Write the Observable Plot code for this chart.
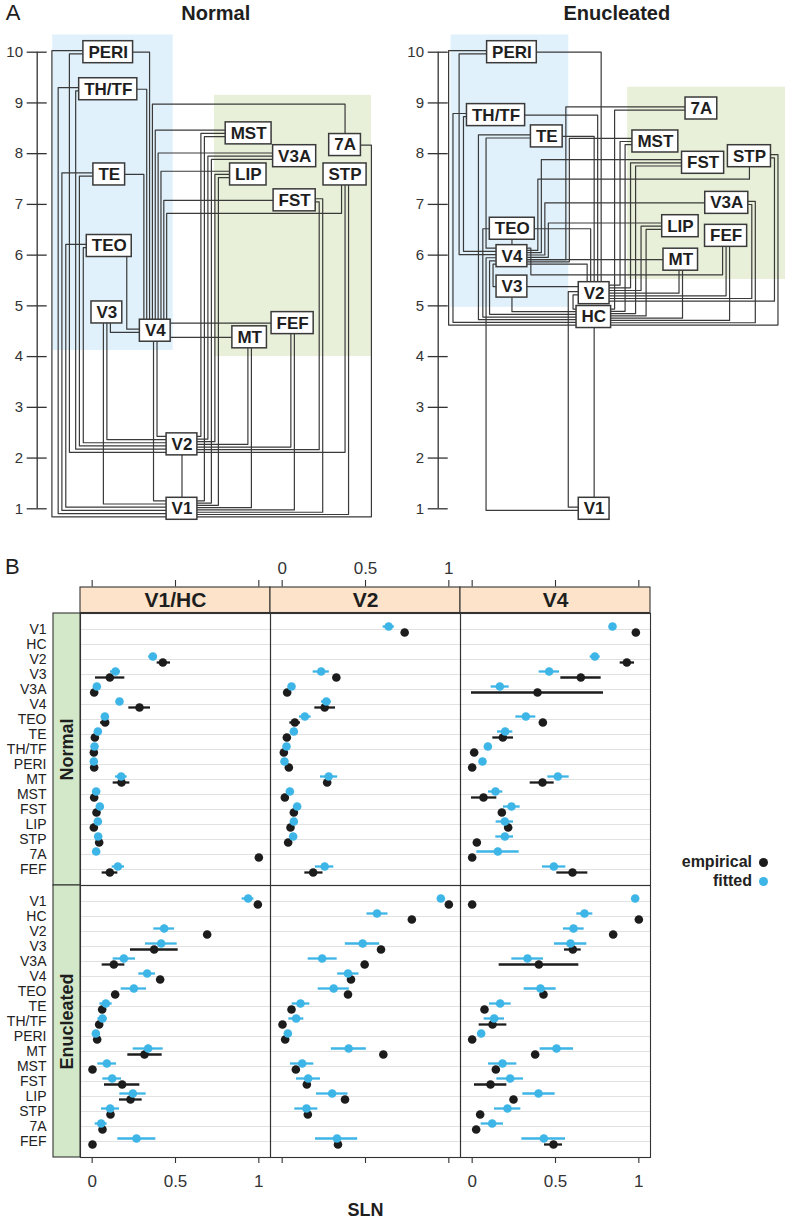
<!DOCTYPE html>
<html><head><meta charset="utf-8">
<script src="https://cdn.jsdelivr.net/npm/d3@7"></script>
<script src="https://cdn.jsdelivr.net/npm/@observablehq/plot@0.6"></script>
<style>
body{margin:0;background:#fff;font-family:'Liberation Sans',Arial,Helvetica,sans-serif;}
#root{position:relative;width:785px;height:1222px;overflow:hidden;}
.abs{position:absolute;}
.abs svg{display:block;}
.lg{position:absolute;font:bold 16px 'Liberation Sans',Arial,sans-serif;color:#222;text-align:right;width:120px;line-height:20px;}
.dot{position:absolute;width:9px;height:9px;border-radius:50%;}
</style></head><body><div id="root"></div>
<script>
// ---------------- Panel A data: area position (column) and hierarchical level ----------------
const levelTicks = [1,2,3,4,5,6,7,8,9,10];

const normalAreas  = ["PERI","TH/TF","TE","TEO","V3","V4","MST","7A","V3A","LIP","STP","FST","FEF","MT","V2","V1"];
const normalColumn = [2.10, 2.10, 2.13, 2.13, 2.06, 3.49, 6.25, 9.10, 7.61, 6.24, 9.10, 7.61, 7.55, 6.28, 4.28, 4.28];
const normalLevel  = [10.00, 9.27, 7.59, 6.18, 4.87, 4.51, 8.40, 8.17, 7.95, 7.59, 7.59, 7.08, 4.66, 4.38, 2.27, 1.00];
const normalZones  = [
  {zone: "ventral", c1: 0.46, c2: 4.02, l1: 4.12, l2: 10.34},
  {zone: "dorsal",  c1: 5.24, c2: 9.88, l1: 4.00, l2: 9.15}
];
// connections: [area, area, routing style]
const normalEdges = [
  ["V2","V1","V"], ["V3","V1","B"], ["V4","V1","B"], ["TEO","V1","L"], ["TE","V1","L"], ["TH/TF","V1","L"], ["PERI","V1","L"],
  ["MT","V1","B"], ["MST","V1","I"], ["V3A","V1","I"], ["LIP","V1","I"], ["FST","V1","R"], ["STP","V1","B"], ["7A","V1","R"], ["FEF","V1","B"],
  ["V3","V2","B"], ["V4","V2","B"], ["TEO","V2","L"], ["TE","V2","L"], ["TH/TF","V2","L"], ["PERI","V2","L"],
  ["MT","V2","B"], ["MST","V2","I"], ["V3A","V2","I"], ["LIP","V2","I"], ["FST","V2","R"], ["STP","V2","B"], ["FEF","V2","B"],
  ["V3","V4","B"], ["TEO","V4","B"], ["TE","V4","T"], ["TH/TF","V4","T"], ["PERI","V4","T"],
  ["MT","V4","H"], ["FEF","V4","H"], ["MST","V4","T"], ["V3A","V4","T"], ["LIP","V4","T"], ["FST","V4","T"], ["STP","V4","U"], ["7A","V4","O"]
];

const enucAreas  = ["PERI","TH/TF","TE","TEO","V4","V3","V2","HC","V1","7A","MST","FST","STP","V3A","LIP","FEF","MT"];
const enucColumn = [2.18, 1.71, 3.21, 2.19, 2.18, 2.18, 4.61, 4.60, 4.61, 7.78, 6.42, 7.83, 9.20, 8.53, 7.16, 8.51, 7.17];
const enucLevel  = [10.00, 8.76, 8.34, 6.52, 5.98, 5.38, 5.25, 4.78, 1.00, 8.89, 8.24, 7.82, 7.95, 7.03, 6.57, 6.38, 5.91];
const enucZones  = [
  {zone: "ventral", c1: 0.38, c2: 3.86, l1: 4.97, l2: 10.34},
  {zone: "dorsal",  c1: 5.60, c2: 10.27, l1: 5.52, l2: 9.31}
];
const enucEdges = [
  ["HC","V1","V"], ["V2","V1","L"], ["V4","V1","L"],
  ["V2","HC","L"], ["V3","HC","B"], ["V4","HC","L"], ["TEO","HC","L"], ["TE","HC","L"], ["TH/TF","HC","L"], ["PERI","HC","L"],
  ["MT","HC","B"], ["MST","HC","I"], ["FST","HC","I"], ["LIP","HC","I"], ["STP","HC","R"], ["7A","HC","I"], ["FEF","HC","B"], ["V3A","HC","R"],
  ["V3","V2","H"], ["V4","V2","T"], ["TEO","V2","T"], ["TE","V2","T"], ["TH/TF","V2","T"], ["PERI","V2","T"],
  ["MT","V2","B"], ["MST","V2","I"], ["FST","V2","I"], ["LIP","V2","I"], ["STP","V2","R"], ["FEF","V2","B"], ["V3A","V2","R"],
  ["V3","V4","L"], ["TEO","V4","V"], ["TE","V4","L"], ["TH/TF","V4","L"], ["PERI","V4","L"],
  ["MT","V4","H"], ["MST","V4","I"], ["FST","V4","I"], ["LIP","V4","I"], ["STP","V4","U"], ["7A","V4","I"], ["FEF","V4","U"], ["V3A","V4","I"]
];

// ---------------- Panel B data ----------------
const areas   = ["V1","HC","V2","V3","V3A","V4","TEO","TE","TH/TF","PERI","MT","MST","FST","LIP","STP","7A","FEF"];
const targets = ["V1/HC","V2","V4"];
const groups  = ["Normal","Enucleated"];
const tickValues = [0, 0.5, 1];
const N = null;
// rows follow `areas`: [empirical, emp low, emp high, fitted, fit low, fit high]
const normalV1HC = [
  [N,N,N,N,N,N],[N,N,N,N,N,N],
  [0.424,0.39,0.47,0.364,0.34,0.39],[0.106,0.02,0.196,0.14,0.11,0.17],[0.012,N,N,0.028,N,N],
  [0.284,0.22,0.35,0.164,N,N],[0.078,0.05,0.10,0.076,N,N],[0.016,N,N,0.034,N,N],
  [0.010,N,N,0.014,N,N],[0.012,N,N,0.010,N,N],[0.176,0.126,0.226,0.174,0.14,0.21],
  [0.012,N,N,0.024,N,N],[0.026,N,N,0.046,N,N],[0.010,N,N,0.034,N,N],
  [0.042,N,N,0.036,N,N],[1.000,N,N,0.024,N,N],[0.106,0.06,0.154,0.154,0.12,0.194]
];
const normalV2 = [
  [0.735,N,N,0.639,0.606,0.673],[N,N,N,N,N,N],[N,N,N,N,N,N],
  [0.325,N,N,0.234,0.186,0.283],[0.030,N,N,0.056,N,N],[0.255,0.196,0.32,0.265,0.236,0.295],
  [0.076,0.046,0.11,0.136,0.104,0.174],[0.028,N,N,0.070,N,N],[0.010,N,N,0.026,N,N],
  [0.040,N,N,0.014,N,N],[0.270,N,N,0.279,0.23,0.333],[0.016,N,N,0.046,N,N],
  [0.070,N,N,0.090,N,N],[0.050,N,N,0.070,N,N],[0.036,N,N,0.066,N,N],
  [N,N,N,N,N,N],[0.186,0.136,0.245,0.255,0.20,0.31]
];
const normalV4 = [
  [0.982,N,N,0.842,N,N],[N,N,N,N,N,N],[0.928,0.888,0.974,0.736,0.708,0.768],
  [0.652,0.532,0.774,0.462,0.402,0.524],[0.392,-0.004,0.788,0.166,0.114,0.222],[N,N,N,N,N,N],
  [0.424,N,N,0.322,0.262,0.382],[0.184,0.124,0.248,0.198,0.152,0.244],[0.012,N,N,0.094,N,N],
  [0.000,N,N,0.062,N,N],[0.422,0.348,0.492,0.514,0.454,0.582],[0.068,-0.004,0.148,0.140,0.098,0.184],
  [0.178,N,N,0.236,0.188,0.288],[0.216,N,N,0.196,0.144,0.248],[0.028,N,N,0.196,0.142,0.248],
  [0.000,N,N,0.154,0.028,0.282],[0.602,0.508,0.694,0.490,0.422,0.562]
];
const enucV1HC = [
  [0.994,N,N,0.936,0.90,0.97],[N,N,N,N,N,N],[0.690,N,N,0.432,0.37,0.494],
  [0.372,0.23,0.516,0.414,0.32,0.51],[0.130,0.06,0.196,0.190,0.126,0.26],[0.408,N,N,0.330,0.28,0.38],
  [0.138,N,N,0.250,0.174,0.326],[0.060,N,N,0.082,0.046,0.12],[0.042,N,N,0.062,0.034,0.09],
  [0.030,N,N,0.022,N,N],[0.314,0.214,0.42,0.336,0.246,0.426],[0.002,N,N,0.088,0.034,0.146],
  [0.180,0.074,0.286,0.120,0.064,0.176],[0.230,0.164,0.30,0.244,0.166,0.324],[0.110,N,N,0.108,0.056,0.164],
  [0.062,N,N,0.054,0.018,0.09],[0.002,N,N,0.266,0.154,0.382]
];
const enucV2 = [
  [1.000,N,N,0.952,N,N],[0.778,N,N,0.569,0.509,0.635],[N,N,N,N,N,N],
  [0.593,N,N,0.483,0.379,0.585],[0.495,N,N,0.240,0.156,0.33],[0.413,N,N,0.395,0.333,0.461],
  [0.395,N,N,0.309,0.216,0.403],[0.056,N,N,0.110,0.06,0.166],[0.002,N,N,0.084,0.04,0.13],
  [0.018,N,N,0.034,N,N],[0.607,N,N,0.399,0.295,0.505],[0.082,N,N,0.120,0.05,0.19],
  [0.148,N,N,0.156,0.086,0.23],[0.377,N,N,0.300,0.206,0.395],[0.154,N,N,0.146,0.076,0.214],
  [N,N,N,N,N,N],[0.335,N,N,0.329,0.20,0.453]
];
const enucV4 = [
  [0.000,N,N,0.978,N,N],[1.000,N,N,0.674,0.628,0.724],[0.846,N,N,0.608,0.548,0.672],
  [0.604,0.554,0.654,0.590,0.494,0.688],[0.400,0.162,0.64,0.332,0.238,0.428],[N,N,N,N,N,N],
  [0.428,N,N,0.410,0.312,0.504],[0.074,N,N,0.168,0.104,0.234],[0.122,0.042,0.208,0.132,0.072,0.194],
  [0.000,N,N,0.054,N,N],[0.378,N,N,0.506,0.408,0.608],[0.142,N,N,0.182,0.098,0.268],
  [0.110,0.014,0.208,0.228,0.148,0.308],[0.248,N,N,0.398,0.304,0.498],[0.048,N,N,0.212,0.134,0.292],
  [0.024,N,N,0.120,0.054,0.188],[0.488,0.434,0.542,0.430,0.298,0.56]
];

// ---------------- helpers ----------------
const FONT = "'Liberation Sans', Arial, Helvetica, sans-serif";
const BLUE = "#3db5e6", BLACK = "#1c1c1c", LINE = "#3a3a3a";
const zoneColor = {ventral: "#e0f1fb", dorsal: "#e8f0d9"};
const PXX = 33.83, PXY = 50.73;   // px per column unit / per level unit (shared by both diagrams)
const ctx = document.createElement("canvas").getContext("2d");
function textWidth(s) { ctx.font = `bold 17px ${FONT}`; return ctx.measureText(s).width; }

// orthogonal wiring of the hierarchy diagram, derived from area positions
function layoutDiagram(names, columns, levels, edges) {
  const GAP = 3.5, SEP = 3.0, BOXH = 22, PAD = 5;
  const nodes = new Map();
  names.forEach((name, i) => {
    const w = textWidth(name) + 2 * PAD, cx = columns[i] * PXX, cy = (10 - levels[i]) * PXY;
    nodes.set(name, {name, cx, cy, w, h: BOXH, left: cx - w / 2, right: cx + w / 2, top: cy - BOXH / 2, bottom: cy + BOXH / 2,
      ports: {left: [], right: [], top: [], bottom: []}});
  });
  const boxes = [...nodes.values()];
  const tracks = [];
  const hitV = (x, y1, y2, ex) => { const lo = Math.min(y1, y2), hi = Math.max(y1, y2);
    return boxes.some(b => !ex.includes(b) && x > b.left - 2 && x < b.right + 2 && hi > b.top - 1 && lo < b.bottom + 1); };
  const hitH = (y, x1, x2, ex) => { const lo = Math.min(x1, x2), hi = Math.max(x1, x2);
    return boxes.some(b => !ex.includes(b) && y > b.top - 2 && y < b.bottom + 2 && hi > b.left - 1 && lo < b.right + 1); };
  const hitT = (x, y1, y2) => { const lo = Math.min(y1, y2), hi = Math.max(y1, y2);
    return tracks.some(t => Math.abs(t.x - x) < SEP && hi > t.lo + 0.5 && lo < t.hi - 0.5); };
  const addT = (x, y1, y2) => tracks.push({x, lo: Math.min(y1, y2), hi: Math.max(y1, y2)});
  const sideX = (n, side) => side === "left" ? n.left : n.right;
  const spread = (list, center, span, margin, maxSp, keyFn) => {
    list.sort((p, q) => { const a = keyFn(p), b = keyFn(q); return a[0] - b[0] || a[1] - b[1]; });
    const n = list.length, sp = n > 1 ? Math.min(maxSp, (span - margin) / (n - 1)) : 0;
    list.forEach((p, i) => p.pos = center + (i - (n - 1) / 2) * sp);
  };

  const routes = edges.map(([a, b, type], id) => {
    const A = nodes.get(a), B = nodes.get(b);
    const [S, T] = A.cy <= B.cy ? [A, B] : [B, A];
    return {id, A, B, S, T, type};
  });
  for (const r of routes) if (r.type === "V") {
    const x = (Math.max(r.S.left, r.T.left) + Math.min(r.S.right, r.T.right)) / 2;
    r.path = [[x, r.S.bottom], [x, r.T.top]];
    addT(x, r.S.bottom, r.T.top);
  }
  for (const r of routes) if (r.type === "H") {
    const y = Math.max(r.B.top + 3, Math.min(r.B.bottom - 3, r.A.cy));
    const [L, R] = r.A.cx < r.B.cx ? [r.A, r.B] : [r.B, r.A];
    r.path = [[L.right, y], [R.left, y]];
  }
  for (const r of routes) {
    const dir = r.T.cx >= r.S.cx ? 1 : -1; r.dir = dir;
    if (r.type === "B") { r.turn = r.T.cy; r.S.ports.bottom.push({r, dir, turn: r.turn, role: "s"}); }
    else if (r.type === "U") {
      r.turn = r.S.bottom + 25; r.S.ports.bottom.push({r, dir, turn: r.turn, role: "s"});
      r.topEntry = r.T.top > r.turn + 5 && !hitV(r.T.cx, r.turn, r.T.top, [r.S, r.T]);
    } else if (r.type === "O") { r.turn = r.S.top - 30; r.S.ports.top.push({r, dir, turn: r.turn, role: "s"}); r.topEntry = true; }
    else if (r.type === "T") { r.turn = r.S.cy; r.topEntry = true; }
    if (r.topEntry) r.T.ports.top.push({r, dir: -dir, turn: r.turn, role: "t"});
  }
  for (const n of boxes) {
    spread(n.ports.bottom, n.cx, n.w, 8, 3.5, p => p.dir < 0 ? [0, p.turn] : [2, -p.turn]);
    spread(n.ports.top, n.cx, n.w, 8, 3.5, p => p.dir < 0 ? [0, -p.turn] : [2, p.turn]);
    for (const p of n.ports.bottom) p.r.px = p.pos;
    for (const p of n.ports.top) { if (p.role === "s") p.r.px = p.pos; else p.r.x = p.pos; }
  }
  for (const r of routes) {
    const {S, T} = r;
    if (r.type === "B") {
      let x = r.px, k = 0;
      while (hitV(x, S.bottom, T.cy, [S, T]) && k < 12) { x += r.dir * GAP; k++; }
      if (x > S.left + 1 && x < S.right - 1) r.px = x;
      if (r.px > T.left + 1 && r.px < T.right - 1) { r.path = [[r.px, S.bottom], [r.px, T.top]]; addT(r.px, S.bottom, T.top); }
      else { const side = r.px < T.left ? "left" : "right";
        T.ports[side].push({r, kind: "up", d: Math.abs(sideX(T, side) - r.px), role: "t"}); addT(r.px, S.bottom, T.cy); }
    } else if (r.type === "T") {
      addT(r.x, S.cy, T.top);
      const side = r.x < S.left ? "left" : r.x > S.right ? "right" : null;
      if (side) S.ports[side].push({r, kind: "down", d: Math.abs(sideX(S, side) - r.x), role: "s"});
    } else if (r.type === "O") {
      r.via = S.top - 30; while (hitH(r.via, r.px, r.x, [S]) && r.via > -80) r.via -= 4;
      addT(r.x, r.via, T.top); addT(r.px, r.via, S.top);
    } else if (r.type === "U" && r.topEntry) {
      r.via = S.bottom + 12; while (hitH(r.via, r.px, r.x, [S]) && r.via < T.top - 6) r.via += 4;
      addT(r.x, r.via, T.top); addT(r.px, S.bottom, r.via);
    }
  }
  const byT = (p, q) => p.T.cy - q.T.cy || q.S.cy - p.S.cy;
  const Ls = routes.filter(r => r.type === "L").sort(byT);
  const Rs = routes.filter(r => r.type === "R").sort(byT);
  const Is = routes.filter(r => r.type === "I" || (r.type === "U" && !r.topEntry)).sort((p, q) => p.S.cy - q.S.cy || p.T.cy - q.T.cy);
  for (const r of [...Ls, ...Rs, ...Is]) {
    const {S, T} = r, isU = r.type === "U";
    let start, step, sSide, tSide, stop = () => false;
    if (r.type === "L") { start = Math.min(S.left, T.left) - GAP; step = -GAP; sSide = tSide = "left"; }
    else if (r.type === "R") { start = Math.max(S.right, T.right) + GAP; step = GAP; sSide = tSide = "right"; }
    else if (S.cx > T.cx) { start = T.right + GAP; step = GAP; sSide = "left"; tSide = "right"; if (!isU) stop = x => x >= S.left - 2; }
    else { start = T.left - GAP; step = -GAP; sSide = "right"; tSide = "left"; if (!isU) stop = x => x <= S.right + 2; }
    if (isU) sSide = null;
    const y1 = isU ? S.bottom + 25 : S.cy, y2 = T.cy;
    let x = start, found = null, fb = null;
    for (let k = 0; k < 90; k++, x += step) {
      if (stop(x)) break;
      if (hitT(x, y1, y2)) continue;
      if (fb === null) fb = x;
      if (hitV(x, y1, y2, [S, T])) continue;
      if (sSide && hitH(S.cy, sideX(S, sSide), x, [S])) continue;
      found = x; break;
    }
    r.x = found ?? fb ?? start;
    addT(r.x, y1, y2);
    if (sSide) S.ports[sSide].push({r, kind: "down", d: Math.abs(sideX(S, sSide) - r.x), role: "s"});
    T.ports[tSide].push({r, kind: "up", d: Math.abs(sideX(T, tSide) - r.x), role: "t"});
    if (isU) { r.via = S.bottom + 12; while (hitH(r.via, r.px, r.x, [S]) && r.via < S.bottom + 140) r.via += 4; addT(r.px, S.bottom, r.via); }
  }
  for (const n of boxes) for (const side of ["left", "right"]) {
    spread(n.ports[side], n.cy, n.h, 6, 3.2, p => p.kind === "up" ? [0, p.d] : [2, -p.d]);
    for (const p of n.ports[side]) { if (p.role === "s") { p.r.sy = p.pos; p.r.sSide = side; } else { p.r.ty = p.pos; p.r.tSide = side; } }
  }
  for (const r of routes) {
    if (r.path) continue;
    const {S, T} = r;
    if (r.type === "L" || r.type === "R" || r.type === "I")
      r.path = [[sideX(S, r.sSide), r.sy], [r.x, r.sy], [r.x, r.ty], [sideX(T, r.tSide), r.ty]];
    else if (r.type === "B") r.path = [[r.px, S.bottom], [r.px, r.ty], [sideX(T, r.tSide), r.ty]];
    else if (r.type === "T") r.path = r.sSide ? [[sideX(S, r.sSide), r.sy], [r.x, r.sy], [r.x, T.top]] : [[r.x, S.bottom], [r.x, T.top]];
    else if (r.type === "O") r.path = [[r.px, S.top], [r.px, r.via], [r.x, r.via], [r.x, T.top]];
    else if (r.type === "U") r.path = r.topEntry
      ? [[r.px, S.bottom], [r.px, r.via], [r.x, r.via], [r.x, T.top]]
      : [[r.px, S.bottom], [r.px, r.via], [r.x, r.via], [r.x, r.ty], [sideX(T, r.tSide), r.ty]];
  }
  return {boxes, routes};
}

function diagramPlot({names, columns, levels, edges, zones, title, xRange, width, letter}) {
  const {boxes, routes} = layoutDiagram(names, columns, levels, edges);
  const wires = routes.flatMap(r => r.path.map(([X, Y]) => ({id: r.id, col: X / PXX, level: 10 - Y / PXY})));
  const boxData = boxes.map(b => ({name: b.name, c1: b.left / PXX, c2: b.right / PXX,
    l1: 10 - b.bottom / PXY, l2: 10 - b.top / PXY, col: b.cx / PXX, level: 10 - b.cy / PXY}));
  const marks = [
    Plot.rect(zones, {x1: "c1", x2: "c2", y1: "l1", y2: "l2", fill: d => zoneColor[d.zone]}),
    Plot.ruleX([0], {y1: 1, y2: 10, stroke: "#333", strokeWidth: 1.3}),
    Plot.ruleY(levelTicks, {y: d => d, x1: -0.296, x2: 0.296, stroke: "#333", strokeWidth: 1.3}),
    Plot.text(levelTicks, {x: -0.42, y: d => d, text: d => String(d), textAnchor: "end", fontSize: 15, fill: "#333"}),
    Plot.line(wires, {x: "col", y: "level", z: "id", stroke: LINE, strokeWidth: 1.2}),
    Plot.rect(boxData, {x1: "c1", x2: "c2", y1: "l1", y2: "l2", fill: "white", stroke: "#3a3a3a", strokeWidth: 1.5}),
    Plot.text(boxData, {x: "col", y: "level", text: "name", fontSize: 17, fontWeight: "bold", fill: "#1e1e1e"}),
    Plot.text([title], {x: 5.28, y: 10.77, text: d => d, fontSize: 20, fontWeight: "bold", fill: "#1e1e1e"})
  ];
  if (letter) marks.push(Plot.text([letter], {x: -0.71, y: 10.77, text: d => d, fontSize: 22, fill: "#1e1e1e"}));
  return Plot.plot({
    width, height: 535, margin: 0,
    style: {fontFamily: FONT, background: "transparent", overflow: "visible"},
    x: {domain: [0, 10], range: xRange, axis: null},
    y: {domain: [1, 10], range: [508.3, 51.7], axis: null},
    marks
  });
}

const root = document.getElementById("root");
function place(el, left, top) { const d = document.createElement("div"); d.className = "abs"; d.style.left = left + "px"; d.style.top = top + "px"; d.appendChild(el); root.appendChild(d); return d; }

place(diagramPlot({names: normalAreas, columns: normalColumn, levels: normalLevel, edges: normalEdges, zones: normalZones,
  title: "Normal", xRange: [36.7, 375.0], width: 390, letter: "A"}), 0, 0);
place(diagramPlot({names: enucAreas, columns: enucColumn, levels: enucLevel, edges: enucEdges, zones: enucZones,
  title: "Enucleated", xRange: [47.7, 386.0], width: 395}), 390, 0);

// ---------------- Panel B ----------------
const panels = [["Normal","V1/HC",normalV1HC],["Normal","V2",normalV2],["Normal","V4",normalV4],
                ["Enucleated","V1/HC",enucV1HC],["Enucleated","V2",enucV2],["Enucleated","V4",enucV4]];
const rows = panels.flatMap(([group, target, tbl]) => tbl.map((v, i) => ({group, target, area: areas[i],
  emp: v[0], empLo: v[1], empHi: v[2], fit: v[3], fitLo: v[4], fitHi: v[5]})));
const FH = 272.5, FW = 190;
const fmt = v => v === 0.5 ? "0.5" : String(v);
const stripTop = targets.map(t => ({fx: t, fy: "Normal", label: t}));
const stripLeft = groups.map(g => ({fx: "V1/HC", fy: g, label: g}));
const catLabels = groups.flatMap(g => areas.map(a => ({fx: "V1/HC", fy: g, area: a})));
const topTicks = targets.flatMap(t => tickValues.map(v => ({fx: t, fy: "Normal", v, label: fmt(v)})));
const bottomTicks = targets.flatMap(t => tickValues.map(v => ({fx: t, fy: "Enucleated", v, label: fmt(v)})));
const slnLabel = [{fx: "V2", fy: "Enucleated", label: "SLN"}];

const plotB = Plot.plot({
  width: 785, height: 672, marginLeft: 80, marginRight: 135, marginTop: 62, marginBottom: 65,
  style: {fontFamily: FONT, background: "transparent", overflow: "visible"},
  fx: {domain: targets, padding: 0, axis: null},
  fy: {domain: groups, padding: 0, axis: null},
  x: {domain: [-0.07, 1.07], axis: null},
  y: {type: "point", domain: areas, padding: 0.62, axis: null},
  marks: [
    Plot.ruleY(areas, {y: d => d, stroke: "#e1e1e1", strokeWidth: 1}),
    Plot.ruleY(rows.filter(d => d.empLo != null), {y: "area", x1: "empLo", x2: "empHi", fx: "target", fy: "group", dy: 3, stroke: BLACK, strokeWidth: 2.3}),
    Plot.dot(rows.filter(d => d.emp != null), {x: "emp", y: "area", fx: "target", fy: "group", dy: 3, r: 4.3, fill: BLACK}),
    Plot.ruleY(rows.filter(d => d.fitLo != null), {y: "area", x1: "fitLo", x2: "fitHi", fx: "target", fy: "group", dy: -3, stroke: BLUE, strokeWidth: 2.3}),
    Plot.dot(rows.filter(d => d.fit != null), {x: "fit", y: "area", fx: "target", fy: "group", dy: -3, r: 4.3, fill: BLUE}),
    Plot.frame({stroke: "#333", strokeWidth: 1.1}),
    Plot.rect(stripTop, {fx: "fx", fy: "fy", insetTop: -26, insetBottom: FH, fill: "#fde3ca", stroke: "#333", strokeWidth: 1.1}),
    Plot.text(stripTop, {fx: "fx", fy: "fy", text: "label", frameAnchor: "top", lineAnchor: "middle", dy: -13, fontSize: 21, fontWeight: "bold", fill: "#1e1e1e"}),
    Plot.rect(stripLeft, {fx: "fx", fy: "fy", insetLeft: -27, insetRight: FW, fill: "#d3e8c8", stroke: "#333", strokeWidth: 1.1}),
    Plot.text(stripLeft, {fx: "fx", fy: "fy", text: "label", frameAnchor: "left", textAnchor: "middle", lineAnchor: "middle", dx: -13.5, rotate: -90, fontSize: 18, fontWeight: "bold", fill: "#1e1e1e"}),
    Plot.text(catLabels, {fx: "fx", fy: "fy", y: "area", text: "area", frameAnchor: "left", textAnchor: "end", lineAnchor: "middle", dx: -34, fontSize: 14, fill: "#222"}),
    Plot.ruleX(topTicks, {x: "v", fx: "fx", fy: "fy", insetTop: -33, insetBottom: FH + 26, stroke: "#333", strokeWidth: 1.1}),
    Plot.text(topTicks.filter(d => d.fx === "V2"), {x: "v", fx: "fx", fy: "fy", text: "label", frameAnchor: "top", lineAnchor: "middle", dy: -45, fontSize: 17, fill: "#333"}),
    Plot.ruleX(bottomTicks, {x: "v", fx: "fx", fy: "fy", insetTop: FH, insetBottom: -6, stroke: "#333", strokeWidth: 1.1}),
    Plot.text(bottomTicks.filter(d => d.fx !== "V2"), {x: "v", fx: "fx", fy: "fy", text: "label", frameAnchor: "bottom", lineAnchor: "middle", dy: 24, fontSize: 17, fill: "#333"}),
    Plot.text(slnLabel, {fx: "fx", fy: "fy", text: "label", frameAnchor: "bottom", lineAnchor: "middle", dy: 53, fontSize: 18, fontWeight: "bold", fill: "#1e1e1e"})
  ]
});
place(plotB, 0, 550);

// panel letter B and legend
const bl = document.createElement("div"); bl.className = "abs"; bl.style.cssText = "left:5px;top:554px;font-size:22px;color:#1e1e1e;"; bl.textContent = "B"; root.appendChild(bl);
[["empirical", BLACK, 862], ["fitted", BLUE, 881]].forEach(([label, color, y]) => {
  const t = document.createElement("div"); t.className = "lg"; t.style.left = "632px"; t.style.top = (y - 10) + "px"; t.textContent = label; root.appendChild(t);
  const d = document.createElement("div"); d.className = "dot"; d.style.background = color; d.style.left = "758.5px"; d.style.top = (y - 4.5) + "px"; root.appendChild(d);
});
</script></body></html>
